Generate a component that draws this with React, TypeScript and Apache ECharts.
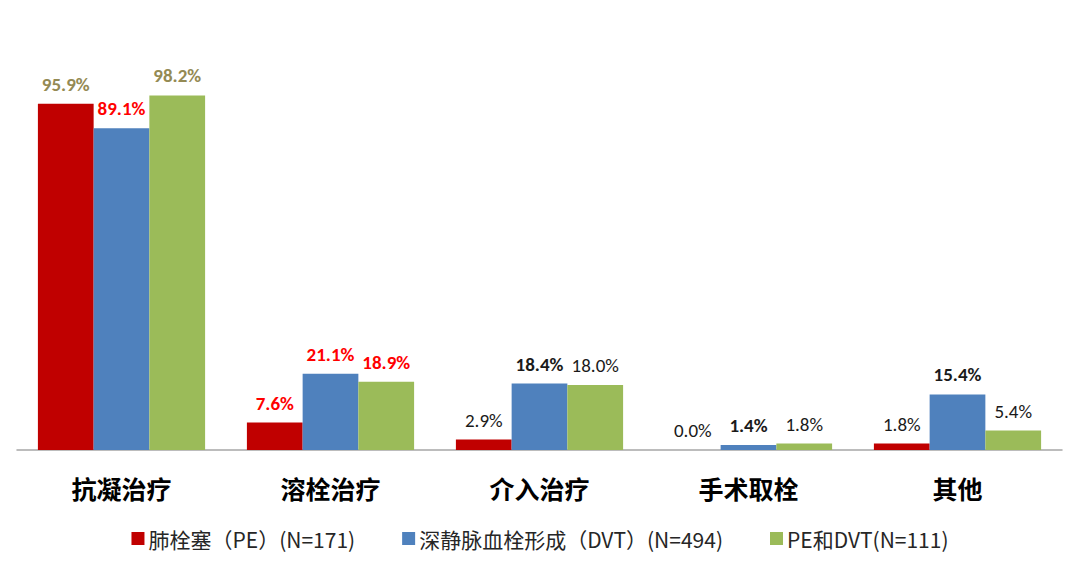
import React, { useEffect, useRef } from "react";
import * as echarts from "echarts";

const categories = ["抗凝治疗", "溶栓治疗", "介入治疗", "手术取栓", "其他"];
const seriesNames = ["肺栓塞（PE）(N=171)", "深静脉血栓形成（DVT）(N=494)", "PE和DVT(N=111)"];
const peValues = [95.9, 7.6, 2.9, 0.0, 1.8];
const dvtValues = [89.1, 21.1, 18.4, 1.4, 15.4];
const bothValues = [98.2, 18.9, 18.0, 1.8, 5.4];
const colors = ["#C00000", "#4F81BD", "#9BBB59"];

// label style per point: [color, bold]
const peLabelStyle: [string, boolean][] = [["#948A54", true], ["#FF0000", true], ["#1a1a1a", false], ["#1a1a1a", false], ["#1a1a1a", false]];
const dvtLabelStyle: [string, boolean][] = [["#FF0000", true], ["#FF0000", true], ["#1a1a1a", true], ["#1a1a1a", true], ["#1a1a1a", true]];
const bothLabelStyle: [string, boolean][] = [["#948A54", true], ["#FF0000", true], ["#1a1a1a", false], ["#1a1a1a", false], ["#1a1a1a", false]];

export default function App() {
  const ref = useRef<HTMLDivElement>(null);
  useEffect(() => {
    const chart = echarts.init(ref.current!, null, { renderer: "svg" });
    const mk = (vals: number[], styles: [string, boolean][]) =>
      vals.map((v, i) => ({
        value: v,
        label: {
          color: styles[i][0],
          fontWeight: styles[i][1] ? "bold" : "normal",
        },
      }));
    const allData = [mk(peValues, peLabelStyle), mk(dvtValues, dvtLabelStyle), mk(bothValues, bothLabelStyle)];
    chart.setOption({
      animation: false,
      grid: { left: 17, right: 18, top: 89, bottom: 117 },
      legend: {
        bottom: 13,
        left: "center",
        itemWidth: 13,
        itemHeight: 13,
        itemGap: 47,
        icon: "rect",
        textStyle: {
          fontSize: 21,
          color: "#262626",
          fontFamily: "'Noto Sans CJK SC', sans-serif",
          padding: [0, 0, 0, -1],
        },
        data: seriesNames,
      },
      xAxis: {
        type: "category",
        data: categories,
        axisLine: { lineStyle: { color: "#A6A6A6", width: 1.5 } },
        axisTick: { show: false },
        axisLabel: {
          fontSize: 25,
          fontWeight: "bold",
          color: "#000",
          fontFamily: "Noto Sans CJK SC",
          margin: 25,
        },
      },
      yAxis: {
        type: "value",
        min: 0,
        max: 100,
        show: false,
        splitLine: { show: false },
      },
      series: seriesNames.map((name, i) => ({
        name,
        type: "bar",
        data: allData[i],
        barGap: "0%",
        barCategoryGap: "20%",
        itemStyle: { color: colors[i] },
        label: {
          show: true,
          position: "top",
          distance: 10,
          fontSize: 19,
          fontFamily: "Carlito, 'Open Sans', 'Noto Sans', sans-serif",
          formatter: (p: any) => p.value.toFixed(1) + "%",
        },
      })),
    });
    return () => chart.dispose();
  }, []);
  return <div ref={ref} style={{ width: 1080, height: 567, margin: -8 }} />;
}
